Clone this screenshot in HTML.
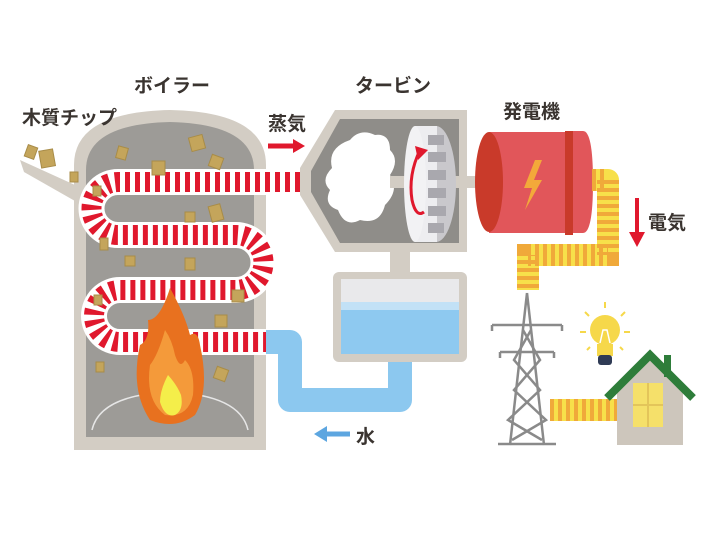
<!DOCTYPE html>
<html><head><meta charset="utf-8"><style>
html,body{margin:0;padding:0;background:#fff;width:720px;height:540px;overflow:hidden}
text{font-family:"Liberation Sans","Noto Sans CJK JP",sans-serif;font-weight:bold;fill:#3a3430}
</style></head><body>
<svg width="720" height="540" viewBox="0 0 720 540" xmlns="http://www.w3.org/2000/svg">
<!-- chute -->
<polygon points="20,160 24,172 82,205 86,190" fill="#d3cdc4"/>
<!-- boiler -->
<path d="M74,450 V165 Q74,112 170,110 Q266,112 266,165 V450 Z" fill="#d3cdc4"/>
<path d="M86,437 V170 Q86,124 170,122 Q254,124 254,170 V437 Z" fill="#9d9b97"/>
<path d="M92,430 Q100,395 170,392 Q240,395 248,430" fill="none" stroke="#e6e6e6" stroke-width="1.5"/>
<!-- blue pipe -->
<path d="M262,342 H290 V400 H400 V355" fill="none" stroke="#8cc8ef" stroke-width="24" stroke-linejoin="round"/>
<!-- tank -->
<rect x="390" y="250" width="20" height="25" fill="#d3cdc4"/>
<rect x="333" y="272" width="134" height="90" rx="6" fill="#d3cdc4"/>
<rect x="341" y="279" width="118" height="75" fill="#e9e9eb"/>
<rect x="341" y="302" width="118" height="8" fill="#c2e1f6"/>
<rect x="341" y="310" width="118" height="44" fill="#8ec9f0"/>
<!-- striped tube -->
<g fill="none" stroke-linejoin="round">
<path id="tube" d="M320,182 H118 A26,26 0 0 0 118,235 H236 A27.5,27.5 0 0 1 236,290 H120 A26,26 0 0 0 120,342 H266" stroke="#fff" stroke-width="26"/>
<path d="M320,182 H118 A26,26 0 0 0 118,235 H236 A27.5,27.5 0 0 1 236,290 H120 A26,26 0 0 0 120,342 H266" stroke="#e0182d" stroke-width="20" stroke-dasharray="5 5"/>
</g>
<!-- turbine -->
<polygon points="335,110 467,110 467,252 335,252 300,195 300,168" fill="#d3cdc4"/>
<polygon points="340,119 459,119 459,243 340,243 311,192 311,171" fill="#8f8d89"/>
<path d="M350,140 q10,-12 25,-5 q15,-2 15,15 q10,10 0,25 q10,15 -5,30 q-5,20 -25,15 q-15,8 -22,-10 q-15,-5 -8,-20 q-10,-10 2,-22 q-5,-20 18,-28z" fill="#fff"/>
<rect x="390" y="176" width="98" height="12" fill="#d3cdc4"/>
<ellipse cx="436" cy="184" rx="20" ry="58" fill="#c9c8cc"/>
<rect x="415" y="126" width="22" height="116" fill="#ededf0"/>
<ellipse cx="415" cy="184" rx="11" ry="58" fill="#f2f2f4"/>
<g fill="#a9a8ae"><rect x="428" y="135" width="16" height="10"/><rect x="428" y="152" width="18" height="10"/><rect x="428" y="170" width="18" height="10"/><rect x="428" y="188" width="18" height="10"/><rect x="428" y="206" width="18" height="10"/><rect x="428" y="223" width="16" height="10"/></g>
<path d="M420,150 Q408,175 412,200 Q416,218 424,212" fill="none" stroke="#e0182d" stroke-width="3"/>
<polygon points="415,146 428,150 418,160" fill="#e0182d"/>
<!-- generator -->
<path d="M489,132 H580 V233 H489 Z" fill="#e1565a"/>
<ellipse cx="489" cy="182" rx="14" ry="50" fill="#c93a2a"/>
<rect x="565" y="131" width="8" height="104" fill="#c93a2a"/>
<path d="M573,131 H583 Q593,131 593,182 Q593,233 583,233 H573 Z" fill="#e1565a"/>
<polygon points="535,160 524,188 532,188 525,210 542,180 534,180 542,160" fill="#f3a93a"/>
<!-- yellow cable -->
<path d="M592,180 H608 V255 H528 V290" fill="none" stroke="#f7e04a" stroke-width="22" stroke-linejoin="round"/>
<path d="M592,180 H608 V255 H528 V290" fill="none" stroke="#f0a93a" stroke-width="22" stroke-dasharray="4 4"/>
<path d="M550,410 H617" stroke="#f7e04a" stroke-width="22"/>
<path d="M550,410 H617" stroke="#f0a93a" stroke-width="22" stroke-dasharray="4 4"/>
<!-- tower -->
<g stroke="#8a8a8a" stroke-width="2.5" fill="none">
<path d="M527,293 L510,445 M527,293 L544,445"/>
<path d="M492,325 H562 M500,352 H554 M492,325 v6 M562,325 v6 M500,352 v6 M554,352 v6"/>
<path d="M523,330 L540,360 L514,390 L546,420 L512,440 M531,330 L514,360 L540,390 L508,420 L542,440"/>
<path d="M498,444 H556"/>
</g>
<!-- bulb -->
<circle cx="605" cy="330" r="15" fill="#f6d84a"/>
<rect x="597" y="344" width="16" height="12" fill="#f6d84a"/>
<path d="M600,343 L603,330 H607 L610,343" fill="none" stroke="#fff" stroke-width="1.5"/>
<rect x="598" y="355" width="14" height="10" rx="3" fill="#2f3b55"/>
<g stroke="#f6d84a" stroke-width="2"><path d="M605,302 v6 M585,312 l4,4 M625,312 l-4,4 M580,332 h6 M624,332 h6 M587,350 l3,-3 M623,350 l-3,-3"/></g>
<!-- house -->
<polygon points="617,388 650,358 683,388 683,445 617,445" fill="#cdc6bc"/>
<rect x="664" y="355" width="7" height="22" fill="#2e7d3a"/>
<path d="M607,398 L650,355 L693,398" fill="none" stroke="#2e7d3a" stroke-width="8"/>
<rect x="633" y="383" width="30" height="44" fill="#f5e06a"/>
<path d="M648,383 V427 M633,405 H663" stroke="#e3c55a" stroke-width="2"/>
<!-- arrows -->
<path d="M268,146 H295" stroke="#e0182d" stroke-width="5"/><polygon points="293,139 305,146 293,153" fill="#e0182d"/>
<path d="M637,198 V234" stroke="#e0182d" stroke-width="4"/><polygon points="629,232 637,247 645,232" fill="#e0182d"/>
<path d="M325,434 H350" stroke="#5da6e0" stroke-width="5"/><polygon points="327,426 314,434 327,442" fill="#5da6e0"/>
<!-- wood chips -->
<g fill="#c4a55b" stroke="#a88c48" stroke-width="1">
<rect x="26" y="146" width="10" height="12" transform="rotate(20 31 152)"/>
<rect x="40" y="150" width="14" height="17" transform="rotate(-10 47 158)"/>
<rect x="70" y="172" width="8" height="10"/>
<rect x="93" y="186" width="8" height="10"/>
<rect x="117" y="147" width="10" height="12" transform="rotate(15 122 153)"/>
<rect x="152" y="161" width="13" height="14"/>
<rect x="190" y="136" width="14" height="14" transform="rotate(-15 197 143)"/>
<rect x="210" y="156" width="12" height="12" transform="rotate(20 216 162)"/>
<rect x="185" y="212" width="10" height="10"/>
<rect x="210" y="205" width="12" height="16" transform="rotate(-15 216 213)"/>
<rect x="100" y="238" width="8" height="12"/>
<rect x="125" y="256" width="10" height="10"/>
<rect x="185" y="258" width="10" height="12"/>
<rect x="232" y="290" width="12" height="12"/>
<rect x="94" y="295" width="8" height="10"/>
<rect x="215" y="315" width="12" height="12"/>
<rect x="96" y="362" width="8" height="10"/>
<rect x="215" y="368" width="12" height="12" transform="rotate(20 221 374)"/>
</g>
<!-- flame -->
<path d="M170,288 Q160,320 148,320 Q150,340 140,345 Q130,390 150,420 Q175,430 195,415 Q210,390 200,345 Q198,330 190,335 Q185,315 170,288Z" fill="#e8711f"/>
<path d="M165,330 Q158,355 150,365 Q145,400 165,415 Q188,418 193,395 Q195,370 185,360 Q180,370 175,355 Q172,340 165,330Z" fill="#f49a3a"/>
<path d="M168,375 Q160,390 160,402 Q165,418 175,415 Q184,410 181,395 Q177,385 168,375Z" fill="#f4ee4a"/>
<!-- labels -->
<text x="22" y="124" font-size="19">木質チップ</text>
<text x="134" y="92" font-size="19">ボイラー</text>
<text x="268" y="130" font-size="19">蒸気</text>
<text x="355" y="92" font-size="19">タービン</text>
<text x="503" y="118" font-size="19">発電機</text>
<text x="648" y="229" font-size="19">電気</text>
<text x="356" y="443" font-size="19">水</text>
</svg>
</body></html>
